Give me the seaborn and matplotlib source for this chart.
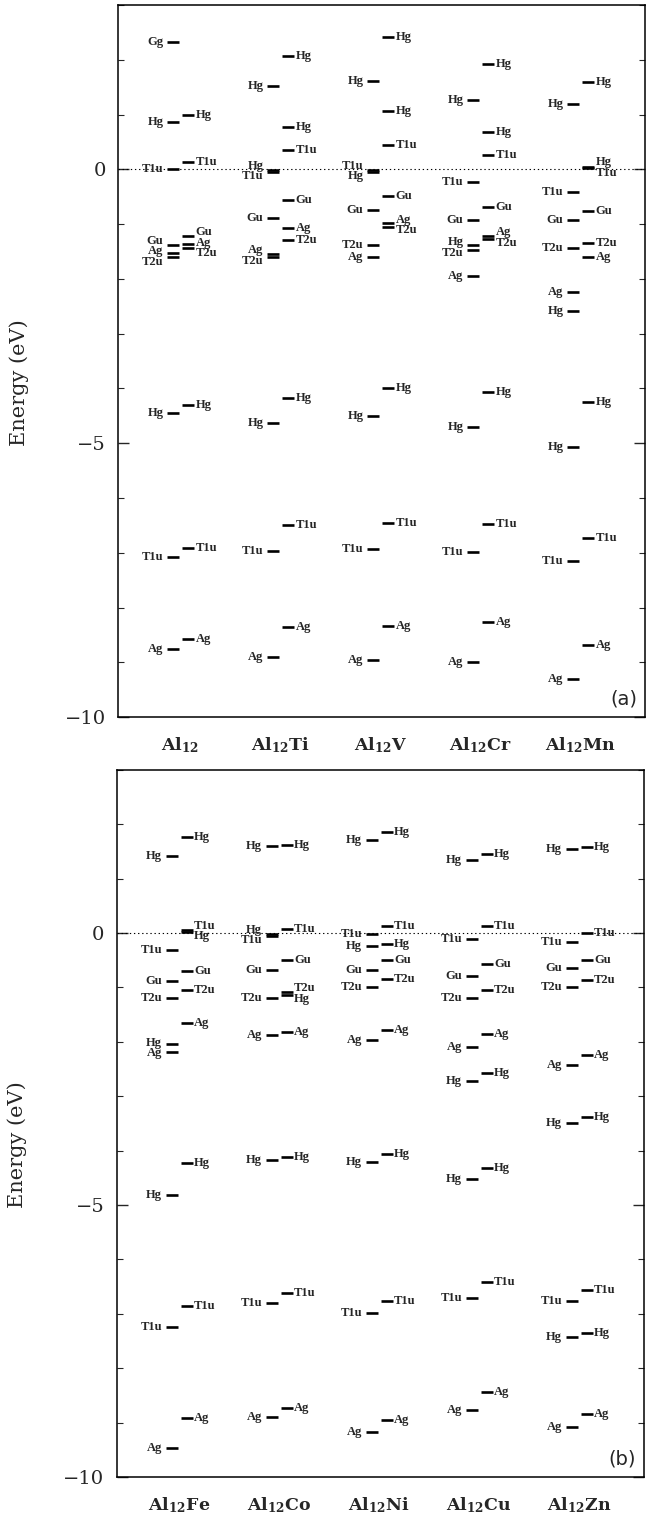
import numpy as np
import pandas as pd
import matplotlib.pyplot as plt
import seaborn as sns
from matplotlib.ticker import MultipleLocator

# ---- data: (symmetry, energy in eV), left = cluster levels, right = second column
labels_a = [r"$\mathbf{Al_{12}}$", r"$\mathbf{Al_{12}Ti}$", r"$\mathbf{Al_{12}V}$",
            r"$\mathbf{Al_{12}Cr}$", r"$\mathbf{Al_{12}Mn}$"]
labels_b = [r"$\mathbf{Al_{12}Fe}$", r"$\mathbf{Al_{12}Co}$", r"$\mathbf{Al_{12}Ni}$",
            r"$\mathbf{Al_{12}Cu}$", r"$\mathbf{Al_{12}Zn}$"]

al12_left = [("Gg", 2.33), ("Hg", 0.86), ("T1u", 0.0), ("Gu", -1.38), ("Ag", -1.52),
             ("T2u", -1.60), ("Hg", -4.45), ("T1u", -7.07), ("Ag", -8.76)]
al12_right = [("Hg", 0.99), ("T1u", 0.13), ("Gu", -1.21), ("Ag", -1.37), ("T2u", -1.44),
              ("Hg", -4.30), ("T1u", -6.91), ("Ag", -8.58)]

ti_left = [("Hg", 1.52), ("Hg", -0.01), ("T1u", -0.05), ("Gu", -0.88), ("Ag", -1.55),
           ("T2u", -1.60), ("Hg", -4.64), ("T1u", -6.96), ("Ag", -8.91)]
ti_right = [("Hg", 2.06), ("Hg", 0.77), ("T1u", 0.35), ("Gu", -0.56), ("Ag", -1.08),
            ("T2u", -1.29), ("Hg", -4.17), ("T1u", -6.50), ("Ag", -8.35)]

v_left = [("Hg", 1.62), ("T1u", -0.02), ("Hg", -0.05), ("Gu", -0.75), ("T2u", -1.38),
          ("Ag", -1.60), ("Hg", -4.50), ("T1u", -6.94), ("Ag", -8.96)]
v_right = [("Hg", 2.41), ("Hg", 1.07), ("T1u", 0.44), ("Gu", -0.48), ("Ag", -0.98),
           ("T2u", -1.06), ("Hg", -4.00), ("T1u", -6.46), ("Ag", -8.33)]

cr_left = [("Hg", 1.27), ("T1u", -0.24), ("Gu", -0.93), ("Hg", -1.39), ("T2u", -1.47),
           ("Ag", -1.94), ("Hg", -4.71), ("T1u", -6.99), ("Ag", -8.99)]
cr_right = [("Hg", 1.92), ("Hg", 0.68), ("T1u", 0.27), ("Gu", -0.68), ("Ag", -1.22),
            ("T2u", -1.27), ("Hg", -4.06), ("T1u", -6.47), ("Ag", -8.26)]

mn_left = [("Hg", 1.20), ("T1u", -0.41), ("Gu", -0.92), ("T2u", -1.44), ("Ag", -2.24),
           ("Hg", -2.58), ("Hg", -5.07), ("T1u", -7.15), ("Ag", -9.30)]
mn_right = [("Hg", 1.60), ("Hg", 0.05), ("T1u", 0.02), ("Gu", -0.77), ("T2u", -1.35),
            ("Ag", -1.60), ("Hg", -4.25), ("T1u", -6.74), ("Ag", -8.68)]

fe_left = [("Hg", 1.42), ("T1u", -0.32), ("Gu", -0.88), ("T2u", -1.20), ("Hg", -2.04),
           ("Ag", -2.18), ("Hg", -4.81), ("T1u", -7.24), ("Ag", -9.47)]
fe_right = [("Hg", 1.76), ("T1u", 0.06), ("Hg", 0.02), ("Gu", -0.70), ("T2u", -1.05),
            ("Ag", -1.65), ("Hg", -4.22), ("T1u", -6.85), ("Ag", -8.91)]

co_left = [("Hg", 1.60), ("Hg", -0.02), ("T1u", -0.05), ("Gu", -0.68), ("T2u", -1.20),
           ("Ag", -1.87), ("Hg", -4.18), ("T1u", -6.81), ("Ag", -8.90)]
co_right = [("Hg", 1.62), ("T1u", 0.07), ("Gu", -0.49), ("T2u", -1.08), ("Hg", -1.14),
            ("Ag", -1.82), ("Hg", -4.12), ("T1u", -6.62), ("Ag", -8.73)]

ni_left = [("Hg", 1.71), ("T1u", -0.02), ("Hg", -0.23), ("Gu", -0.67), ("T2u", -1.00),
           ("Ag", -1.96), ("Hg", -4.21), ("T1u", -6.98), ("Ag", -9.18)]
ni_right = [("Hg", 1.86), ("T1u", 0.13), ("Hg", -0.20), ("Gu", -0.50), ("T2u", -0.85),
            ("Ag", -1.79), ("Hg", -4.06), ("T1u", -6.76), ("Ag", -8.95)]

cu_left = [("Hg", 1.35), ("T1u", -0.11), ("Gu", -0.78), ("T2u", -1.20), ("Ag", -2.10),
           ("Hg", -2.72), ("Hg", -4.52), ("T1u", -6.71), ("Ag", -8.76)]
cu_right = [("Hg", 1.45), ("T1u", 0.13), ("Gu", -0.56), ("T2u", -1.05), ("Ag", -1.85),
            ("Hg", -2.58), ("Hg", -4.32), ("T1u", -6.42), ("Ag", -8.44)]

zn_left = [("Hg", 1.54), ("T1u", -0.16), ("Gu", -0.64), ("T2u", -1.00), ("Ag", -2.43),
           ("Hg", -3.50), ("T1u", -6.76), ("Hg", -7.43), ("Ag", -9.09)]
zn_right = [("Hg", 1.59), ("T1u", 0.01), ("Gu", -0.49), ("T2u", -0.87), ("Ag", -2.25),
            ("Hg", -3.38), ("T1u", -6.57), ("Hg", -7.36), ("Ag", -8.84)]

panel_a = [(al12_left, al12_right), (ti_left, ti_right), (v_left, v_right),
           (cr_left, cr_right), (mn_left, mn_right)]
panel_b = [(fe_left, fe_right), (co_left, co_right), (ni_left, ni_right),
           (cu_left, cu_right), (zn_left, zn_right)]


def spread(energies, gap=0.19):
    # push label positions apart so close levels get stacked labels
    order = np.argsort(energies)[::-1]
    pos = np.array(energies, dtype=float)[order]
    for _ in range(200):
        moved = False
        for k in range(len(pos) - 1):
            d = pos[k] - pos[k + 1]
            if d < gap - 1e-6:
                shift = (gap - d) / 2
                pos[k] += shift
                pos[k + 1] -= shift
                moved = True
        if not moved:
            break
    out = np.empty_like(pos)
    out[order] = pos
    return out


def build(panel):
    rows = []
    for i, (left, right) in enumerate(panel):
        c = i + 0.62
        for side, levels, dx in (("L", left, -0.075), ("R", right, 0.08)):
            sym = [s for s, _ in levels]
            en = [e for _, e in levels]
            lab = spread(en)
            for s, e, ly in zip(sym, en, lab):
                rows.append(dict(comp=i, side=side, sym=s, E=e, x=c + dx, label_y=ly, c=c))
    return pd.DataFrame(rows)


sns.set_theme(style="ticks")
plt.rcParams["font.family"] = ["DejaVu Serif"]
plt.rcParams["mathtext.fontset"] = "dejavuserif"

fig = plt.figure(figsize=(6.54, 15.15), dpi=100)
ax_a = fig.add_axes([0.181, 0.5267, 0.806, 0.470])
ax_b = fig.add_axes([0.179, 0.0251, 0.806, 0.4667])

for ax, panel, xlabels, tag in ((ax_a, panel_a, labels_a, "(a)"), (ax_b, panel_b, labels_b, "(b)")):
    df = build(panel)
    ax.axhline(0, ls=(0, (1.2, 2.5)), lw=0.8, color="black", zorder=1)
    sns.scatterplot(data=df, x="x", y="E", marker="_", s=80, linewidth=1.9,
                    color="black", edgecolor="black", legend=False, ax=ax, zorder=3)
    for _, r in df.iterrows():
        if r.side == "L":
            ax.text(r.c - 0.17, r.label_y, r.sym, ha="right", va="center",
                    fontsize=9, family="Liberation Serif", weight="bold")
        else:
            ax.text(r.c + 0.15, r.label_y, r.sym, ha="left", va="center",
                    fontsize=9, family="Liberation Serif", weight="bold")
    ax.set_xlim(0, 5.27)
    ax.set_ylim(-10, 3)
    ax.set_yticks([0, -5, -10])
    ax.set_yticklabels(["0", "\u22125", "\u221210"])
    ax.yaxis.set_minor_locator(MultipleLocator(1))
    ax.tick_params(axis="y", which="major", direction="in", length=8, width=1,
                   left=True, right=True, labelsize=14, pad=9)
    ax.tick_params(axis="y", which="minor", direction="in", length=4, width=0.8,
                   left=True, right=True)
    ax.set_xticks([i + 0.62 for i in range(5)])
    ax.set_xticklabels(xlabels, fontsize=12.5)
    ax.tick_params(axis="x", length=0, pad=13)
    ax.set_xlabel("")
    ax.set_ylabel("Energy (eV)", fontsize=15)
    ax.yaxis.set_label_coords(-0.17, 0.47)
    for sp in ax.spines.values():
        sp.set_linewidth(1.1)
        sp.set_color("black")
    ax.text(0.985, 0.012, tag, transform=ax.transAxes, ha="right", va="bottom",
            fontsize=14, family="DejaVu Sans")

fig.savefig("out.png", dpi=100)
